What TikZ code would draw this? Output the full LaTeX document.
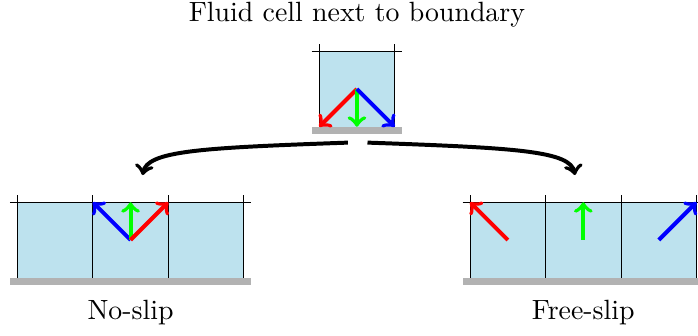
\documentclass[tikz,border=0pt]{standalone}
\usepackage{xcolor}
\usepackage{tikz}
\definecolor{fluid}{RGB}{189,226,238}
\tikzset{
  wall/.style={fill=gray!60},
  vec/.style={->,line width=1.5pt},
  split/.style={->,line width=1.5pt},
}
\begin{document}
\begin{tikzpicture}[font=\fontsize{10.5}{12.6}\selectfont]
      \useasboundingbox (-0.23,-0.77) rectangle (9.02,3.68);
      % top cell
      \fill[fluid] (4,2) rectangle (5,3);
      \fill[wall] (3.9,1.9) rectangle (5.1,2);
      \draw (3.9,3) -- (5.1,3);
      \foreach \x in {4,5} \draw (\x,2) -- (\x,3.1);
      \coordinate (tc) at (4.5,2.5);
      \draw[vec,red] (tc) -- (4,2);
      \draw[vec,green] (tc) -- (4.5,2);
      \draw[vec,blue] (tc) -- (5,2);
      \node (title) at (4.5,3.49) {Fluid cell next to boundary};
      % no-slip row
      \fill[fluid] (0,0) rectangle (3,1);
      \fill[wall] (-0.1,-0.1) rectangle (3.1,0);
      \draw (-0.1,1) -- (3.1,1);
      \foreach \x in {0,1,2,3} \draw (\x,0) -- (\x,1.1);
      \coordinate (nc) at (1.5,0.5);
      \draw[vec,blue] (nc) -- (1,1);
      \draw[vec,green] (nc) -- (1.5,1);
      \draw[vec,red] (nc) -- (2,1);
      \node (noslip) at (1.5,-0.46) {No-slip};
      % free-slip row
      \fill[fluid] (6,0) rectangle (9,1);
      \fill[wall] (5.9,-0.1) rectangle (9.1,0);
      \draw (5.9,1) -- (9.1,1);
      \foreach \x in {6,7,8,9} \draw (\x,0) -- (\x,1.1);
      \draw[vec,red] (6.5,0.5) -- (6,1);
      \draw[vec,green] (7.5,0.5) -- (7.5,1);
      \draw[vec,blue] (8.5,0.5) -- (9,1);
      \node (freeslip) at (7.5,-0.46) {Free-slip};
      % branches
      \coordinate (sl) at (4.38,1.79);
      \coordinate (sr) at (4.64,1.79);
      \coordinate (el) at (1.66,1.36);
      \coordinate (er) at (7.39,1.36);
      \draw[split] (sl) .. controls (2.4,1.72) and (1.72,1.68) .. (el);
      \draw[split] (sr) .. controls (6.62,1.72) and (7.33,1.68) .. (er);
\end{tikzpicture}
\end{document}
